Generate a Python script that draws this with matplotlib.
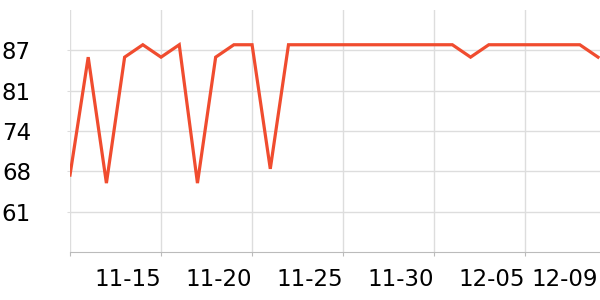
import matplotlib
matplotlib.use("Agg")
import matplotlib.pyplot as plt
import matplotlib.dates as mdates
import numpy as np
import pandas as pd

# daily values 11-10 .. 12-09
dates = pd.date_range("2023-11-10", "2023-12-09", freq="D")
values = [67, 86, 65.7, 86, 88, 86, 88, 65.7, 86, 88,
          88, 68, 88, 88, 88, 88, 88, 88, 88, 88,
          88, 88, 86, 88, 88, 88, 88, 88, 88, 86]

tick_dates = ["2023-11-10", "2023-11-15", "2023-11-20", "2023-11-25",
              "2023-11-30", "2023-12-05", "2023-12-09"]
tick_labels = ["", "11-15", "11-20", "11-25", "11-30", "12-05", "12-09"]

y_min, y_max = 54.6, 93.6

fig = plt.figure(figsize=(6, 3), dpi=100)
ax = fig.add_axes([70/600, 1-252/300, 530/600, 242/300])

ax.plot(dates, values, color="#f04c2f", lw=2.3, solid_joinstyle="miter", zorder=3)

ax.set_xlim(dates[0], dates[-1] + pd.Timedelta(hours=2.6))
ax.set_ylim(y_min, y_max)

xt = pd.to_datetime(tick_dates)
ax.set_xticks(xt)
ax.set_xticklabels(tick_labels, ha="right", fontsize=16.5)
yt = np.linspace(y_min, y_max, 7)[1:-1]
ax.set_yticks(yt)
ax.set_yticklabels(["%.0f" % v for v in yt], fontsize=16.5)

ax.grid(True, color="#dddddd", lw=1)
ax.set_axisbelow(True)
for s in ["top", "right", "left"]:
    ax.spines[s].set_visible(False)
ax.spines["bottom"].set_color("#bbbbbb")
ax.tick_params(axis="x", length=3, color="#bbbbbb", pad=8.5)
ax.tick_params(axis="y", length=2, color="#dddddd", pad=26)

last = ax.xaxis.get_major_ticks()[-1]
last.gridline.set_visible(False)
last.tick1line.set_visible(False)

fig.savefig("out.png", dpi=100)
